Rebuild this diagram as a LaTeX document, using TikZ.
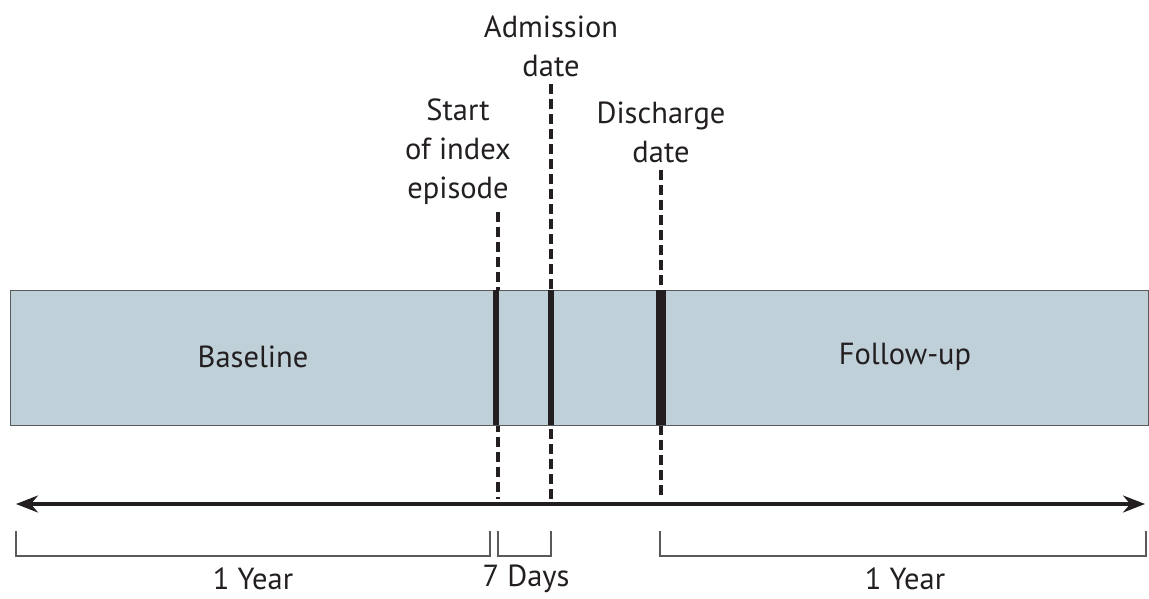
\documentclass[tikz,border=0pt]{standalone}
\usepackage{fontspec}
\setmainfont{PT Sans}
\usetikzlibrary{arrows.meta}
\definecolor{barfill}{RGB}{191,208,217}
\definecolor{ink}{RGB}{35,31,32}
\definecolor{edge}{RGB}{90,90,90}
\begin{document}
\begin{tikzpicture}[x=1pt,y=-1pt,
  lbl/.style={font=\fontsize{30.5}{39}\selectfont, text=ink, align=center, inner sep=0pt},
  marker/.style={draw=ink, line width=3.6pt, dash pattern=on 10pt off 5pt},
  brace/.style={draw=edge, line width=1.5pt},
  axis/.style={draw=ink, line width=3.2pt, {Stealth[length=22pt,width=17pt]}-{Stealth[length=22pt,width=17pt]}}]
\useasboundingbox (0,0) rectangle (1149,598);
% dashed lines (behind the bar)
\coordinate (s1) at (498,212); \coordinate (s2) at (498,499);
\coordinate (a1) at (551,84);  \coordinate (a2) at (551,499);
\coordinate (d1) at (661,170); \coordinate (d2) at (661,499);
\draw[marker] (s1) -- (s2);
\draw[marker] (a1) -- (a2);
\draw[marker] (d1) -- (d2);
% bar
\node[draw=edge, line width=1.2pt, fill=barfill, minimum width=1138pt, minimum height=135pt, inner sep=0pt, anchor=north west] (bar) at (10,290) {};
\fill[ink] (493,290) rectangle (499,425);
\fill[ink] (548,290) rectangle (554,425);
\fill[ink] (656,290) rectangle (666,425);
\node[lbl] (baseline) at (253,357) {Baseline};
\node[lbl] (follow) at (905,357) {Follow-up};
% labels
\node[lbl, anchor=south] (start) at (458,205) {Start\\of index\\episode};
\node[lbl, anchor=south] (adm) at (551,77) {Admission\\date};
\node[lbl, anchor=south] (dis) at (661,163) {Discharge\\date};
% axis
\coordinate (L) at (16,504); \coordinate (R) at (1145,504);
\draw[axis] (L) -- (R);
% brackets
\draw[brace] (16,531) -- (16,556) -- (490,556) -- (490,531);
\draw[brace] (498,531) -- (498,556) -- (551,556) -- (551,531);
\draw[brace] (660,531) -- (660,556) -- (1146,556) -- (1146,531);
\node[lbl] (y1) at (253,579) {1 Year};
\node[lbl] (d7) at (526,579) {7 Days};
\node[lbl] (y2) at (905,579) {1 Year};
\end{tikzpicture}
\end{document}
